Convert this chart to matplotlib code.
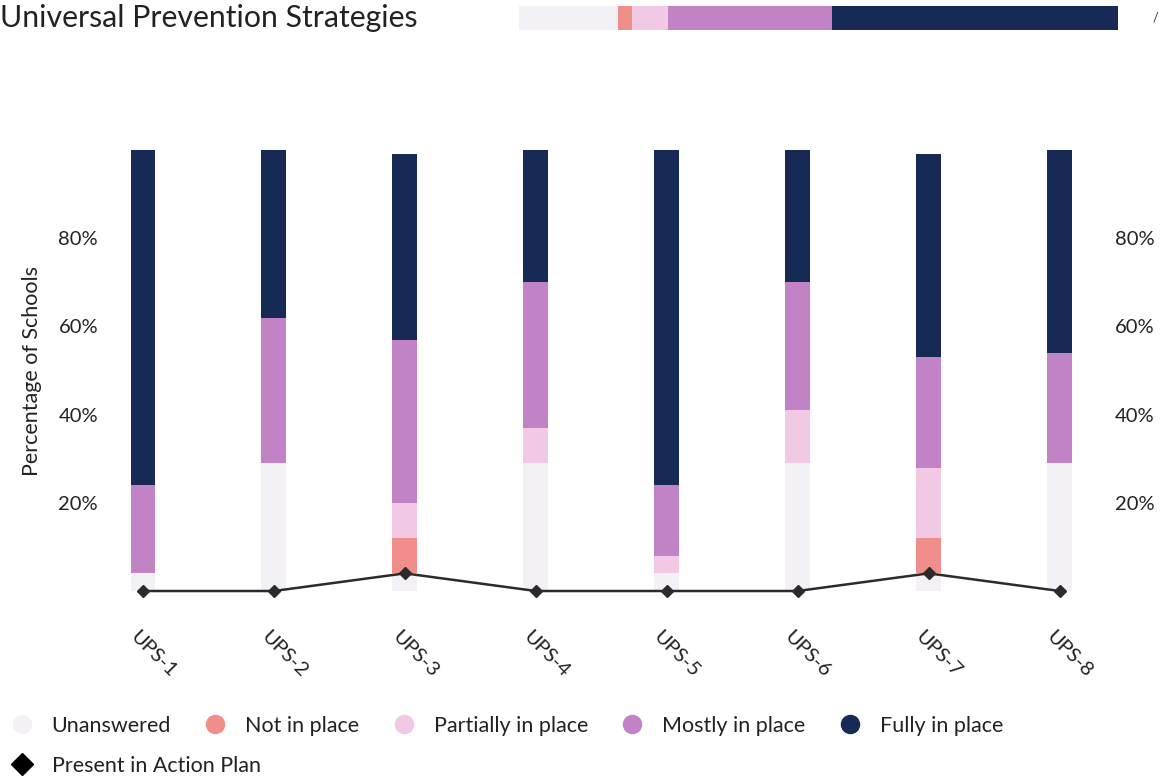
import matplotlib
matplotlib.use("Agg")
import matplotlib.pyplot as plt
import matplotlib.transforms as mtrans
from matplotlib.lines import Line2D

plt.rcParams['font.family'] = ['Lato', 'DejaVu Sans']

# data (percent of schools)
strategies = ['UPS-1', 'UPS-2', 'UPS-3', 'UPS-4', 'UPS-5', 'UPS-6', 'UPS-7', 'UPS-8']
levels = ['Unanswered', 'Not in place', 'Partially in place', 'Mostly in place', 'Fully in place']
unanswered = [4, 29, 4, 29, 4, 29, 4, 29]
not_in_place = [0, 0, 8, 0, 0, 0, 8, 0]
partially = [0, 0, 8, 8, 4, 12, 16, 0]
mostly = [20, 33, 37, 33, 16, 29, 25, 25]
fully = [76, 38, 42, 30, 76, 30, 46, 46]
action_plan = [0, 0, 4, 0, 0, 0, 4, 0]
overall = [16.5, 2.3, 6.0, 27.5, 47.7]   # summary strip at the top
yticks = [20, 40, 60, 80]

colors = ['#f3f1f5', '#ef8e8a', '#f1c9e5', '#c283c6', '#172a55']
line_color = '#2b2b2b'
txt = '#222222'

W, H = 1162, 782
fig = plt.figure(figsize=(W / 100, H / 100), dpi=100)

# main chart
ax = fig.add_axes([105 / W, (H - 591) / H, (1108 - 105) / W, 441 / H])
series = [unanswered, not_in_place, partially, mostly, fully]
x = list(range(len(strategies)))
bottom = [0] * len(strategies)
for vals, c in zip(series, colors):
    ax.bar(x, vals, width=0.19, bottom=bottom, color=c, linewidth=0)
    bottom = [b + v for b, v in zip(bottom, vals)]

ax.plot(x, action_plan, color=line_color, lw=1.8, marker='D', ms=6,
        clip_on=False, zorder=5)

ax.set_xlim(-0.29, 7.37)
ax.set_ylim(0, 100)
ax.set_yticks(yticks)
ax.set_yticklabels([f'{t}%' for t in yticks])
ax.tick_params(axis='y', length=0, labelsize=14.5, pad=5, colors=txt,
               labelright=True, right=False)
ax.set_xticks(x)
ax.set_xticklabels(strategies, rotation=-45, ha='left', va='center',
                   rotation_mode='anchor', fontsize=14.5)
ax.tick_params(axis='x', length=0, pad=31, colors=txt)
shift = mtrans.ScaledTranslation(-10 / 100, 0, fig.dpi_scale_trans)
for lab in ax.get_xticklabels():
    lab.set_transform(lab.get_transform() + shift)
for s in ax.spines.values():
    s.set_visible(False)
ax.set_ylabel('Percentage of Schools', fontsize=15.5, color=txt, labelpad=12)

# summary strip
ax2 = fig.add_axes([519 / W, (H - 30) / H, 599 / W, 24 / H])
left = 0
for v, c in zip(overall, colors):
    ax2.barh(0, v, left=left, height=1, color=c, linewidth=0)
    left += v
ax2.set_xlim(0, sum(overall))
ax2.set_ylim(-0.5, 0.5)
ax2.axis('off')

fig.text(0.0, 0.977, 'Universal Prevention Strategies', fontsize=21.8,
         color=txt, va='center', ha='left')
fig.text(0.992, 0.977, '/', fontsize=9, color='#333333', va='center')

# legends
handles = [Line2D([], [], ls='', marker='o', ms=13, color=c) for c in colors]
fig.legend(handles, levels, loc='center left', bbox_to_anchor=(0.0, (H - 726) / H),
           ncol=5, frameon=False, fontsize=15.5, handletextpad=0.8,
           columnspacing=1.45, handlelength=1.2, borderaxespad=0, labelcolor=txt)
dia = [Line2D([], [], ls='', marker='D', ms=11, color='black')]
fig.legend(dia, ['Present in Action Plan'], loc='center left',
           bbox_to_anchor=(0.0, (H - 766) / H), frameon=False, fontsize=15.5,
           handletextpad=0.8, handlelength=1.2, borderaxespad=0, labelcolor=txt)

fig.savefig('out.png', dpi=100)
